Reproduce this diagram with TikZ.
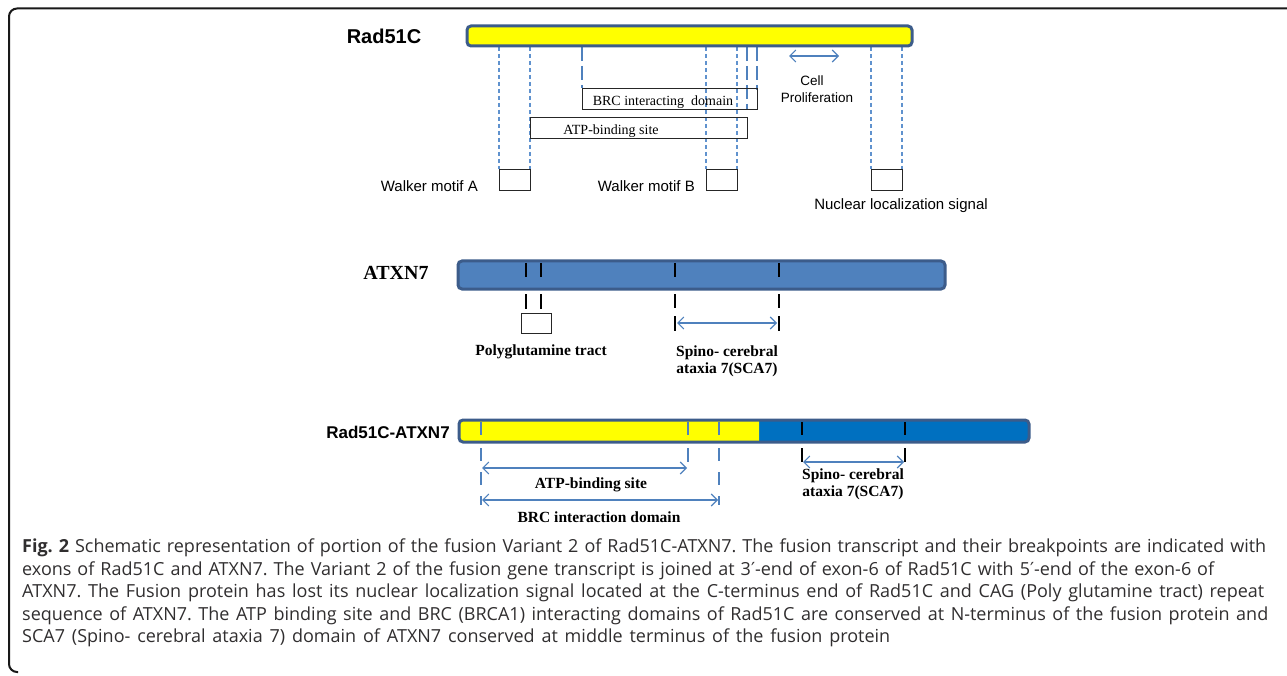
\documentclass[tikz,border=0pt]{standalone}
\usepackage{fontspec}
\setmainfont{Liberation Serif}
\setsansfont{Liberation Sans}
\newfontfamily\capfont{Open Sans}
\newfontfamily\primefont{DejaVu Sans}
\usetikzlibrary{arrows.meta}
\frenchspacing

\definecolor{radyellow}{RGB}{255,255,0}
\definecolor{baredge}{RGB}{60,92,138}
\definecolor{atxblue}{RGB}{79,129,189}
\definecolor{fusblue}{RGB}{0,112,192}
\definecolor{dashblue}{RGB}{79,129,189}
\definecolor{lightline}{RGB}{96,146,206}
\definecolor{captext}{RGB}{48,46,47}
\newcommand{\pr}{{\primefont ′}}

\tikzset{
  protbar/.style={draw=baredge, line width=3pt, rounded corners=4pt},
  tdash/.style={draw=lightline, line width=1.1pt, dash pattern=on 4pt off 3pt},
  kdash/.style={draw=dashblue, line width=2.7pt, dash pattern=on 14pt off 5pt},
  fdash/.style={draw=dashblue, line width=2.7pt, dash pattern=on 13pt off 11pt},
  tick/.style={line width=2.8pt},
  motifbox/.style={draw=black!85, line width=0.8pt},
  domainbox/.style={draw=black!85, line width=0.8pt},
  rangearrow/.style={draw=dashblue, line width=1.1pt,
    {Straight Barb[length=6pt,width=12pt]}-{Straight Barb[length=6pt,width=12pt]}},
  genelab/.style={font=\sffamily\bfseries\fontsize{20}{24}\selectfont},
  fuslab/.style={font=\sffamily\bfseries\fontsize{17}{20}\selectfont},
  serlab/.style={font=\bfseries\fontsize{20}{24}\selectfont},
  motiflab/.style={font=\sffamily\fontsize{15}{18}\selectfont, inner sep=0pt},
  smallsf/.style={font=\sffamily\fontsize{13.5}{16}\selectfont, inner sep=0pt},
  boxtext/.style={font=\fontsize{14}{16}\selectfont, inner sep=0pt, anchor=base},
  domlab/.style={font=\bfseries\fontsize{15.5}{18}\selectfont, inner sep=0pt, align=center},
  captionline/.style={font=\capfont\fontsize{18}{22}\selectfont, text=captext, inner sep=0pt, anchor=base west}
}

\begin{document}
\begin{tikzpicture}[x=1pt,y=-1pt]
\useasboundingbox (0,0) rectangle (1287,676);

% frame of the figure panel
\draw[black!90, line width=2pt, rounded corners=8pt] (1295,8.5) -- (9,8.5) -- (9,672) -- (18,672);

% ---------------- Rad51C ----------------
\node[genelab] (lrad) at (384,36) {Rad51C};

% guide lines down to the motifs
\foreach \x in {499,530,706,737,871,902}
  \draw[tdash] (\x,47) -- (\x,169);
\draw[kdash] (582,47) -- (582,88);
\draw[kdash] (747,47) -- (747,109);
\draw[kdash] (757,47) -- (757,90);

\draw[protbar, fill=radyellow] (467,26) rectangle (912,46);

% motif boxes
\coordinate (wa1) at (499,169); \coordinate (wa2) at (530,190);
\coordinate (wb1) at (706,169); \coordinate (wb2) at (737,190);
\coordinate (nl1) at (871,169); \coordinate (nl2) at (902,190);
\draw[motifbox] (wa1) rectangle (wa2);
\draw[motifbox] (wb1) rectangle (wb2);
\draw[motifbox] (nl1) rectangle (nl2);

% domain boxes
\coordinate (brc1) at (582,88); \coordinate (brc2) at (757,109);
\coordinate (atp1) at (530,117); \coordinate (atp2) at (747,138);
\draw[domainbox] (brc1) rectangle (brc2);
\draw[domainbox] (atp1) rectangle (atp2);
\node[boxtext] (tbrc) at (663,106) {BRC interacting\ \ domain};
\node[boxtext] (tatp) at (611,135) {ATP-binding site};

% cell proliferation region
\coordinate (cp1) at (789,56); \coordinate (cp2) at (839,56);
\draw[rangearrow] (cp1) -- (cp2);
\node[smallsf] (lcell) at (812,81) {Cell};
\node[smallsf] (lprol) at (817,98) {Proliferation};

\node[motiflab, anchor=east] (lwa) at (478,186) {Walker motif A};
\node[motiflab, anchor=east] (lwb) at (695,186) {Walker motif B};
\node[motiflab] (lnls) at (901,206) {Nuclear localization signal};

% ---------------- ATXN7 ----------------
\node[serlab] (latx) at (396,273) {ATXN7};

\draw[protbar, fill=atxblue, draw=baredge] (458,261) rectangle (945,289);
\foreach \x in {526,541,675,779}
  \draw[tick] (\x,263) -- (\x,277);
\foreach \x in {526,541}
  \draw[tick] (\x,294) -- (\x,309);
\foreach \x in {675,779}
  {\draw[tick] (\x,294) -- (\x,308);
   \draw[tick] (\x,316) -- (\x,331);}

\coordinate (pq1) at (521,313); \coordinate (pq2) at (551,333);
\draw[motifbox] (pq1) rectangle (pq2);
\node[domlab] (lpq) at (541,352) {Polyglutamine tract};

\coordinate (sa1) at (677,323); \coordinate (sa2) at (777,323);
\draw[rangearrow] (sa1) -- (sa2);
\node[domlab] (lsca) at (727,361) {Spino- cerebral\\[-1pt]ataxia 7(SCA7)};

% ---------------- Rad51C-ATXN7 fusion ----------------
\node[fuslab] (lfus) at (388,432) {Rad51C-ATXN7};

\fill[fusblue, rounded corners=4pt] (459,420) rectangle (1029,442);
\fill[radyellow] (759,442) [rounded corners=4pt] -- (459,442) -- (459,420) [sharp corners] -- (759,420) -- cycle;
\draw[protbar] (459,420) rectangle (1029,442);

\foreach \x in {481,688,719}
  \draw[tick, dashblue] (\x,422) -- (\x,435);
\foreach \x in {802,905}
  \draw[tick, black] (\x,422) -- (\x,435);

\draw[fdash] (481,448) -- (481,505);
\draw[tick, dashblue] (688,448) -- (688,462);
\draw[fdash] (719,448) -- (719,505);
\draw[tick, black] (802,448) -- (802,462);
\draw[tick, black] (905,448) -- (905,462);

\coordinate (fa1) at (482,468); \coordinate (fa2) at (687,468);
\coordinate (fb1) at (482,500); \coordinate (fb2) at (718,500);
\coordinate (fs1) at (803,462); \coordinate (fs2) at (904,462);
\draw[rangearrow] (fa1) -- (fa2);
\draw[rangearrow] (fb1) -- (fb2);
\draw[rangearrow] (fs1) -- (fs2);

\node[domlab] (lfatp) at (591,485) {ATP-binding site};
\node[domlab] (lfbrc) at (599,517) {BRC interaction domain};
\node[domlab] (lfsca) at (853,484) {Spino- cerebral\\[-1pt]ataxia 7(SCA7)};

% ---------------- caption ----------------
\node[captionline] (c1) at (22,552) {\makebox[1244pt][s]{\textbf{Fig. 2} Schematic representation of portion of the fusion Variant 2 of Rad51C-ATXN7. The fusion transcript and their breakpoints are indicated with}};
\node[captionline] (c2) at (22,575) {\makebox[1192pt][s]{exons of Rad51C and ATXN7. The Variant 2 of the fusion gene transcript is joined at 3\pr-end of exon-6 of Rad51C with 5\pr-end of the exon-6 of}};
\node[captionline] (c3) at (22,597) {\makebox[1242pt][s]{ATXN7. The Fusion protein has lost its nuclear localization signal located at the C-terminus end of Rad51C and CAG (Poly glutamine tract) repeat}};
\node[captionline] (c4) at (22,620) {\makebox[1246pt][s]{sequence of ATXN7. The ATP binding site and BRC (BRCA1) interacting domains of Rad51C are conserved at N-terminus of the fusion protein and}};
\node[captionline] (c5) at (22,642) {\makebox[868pt][s]{SCA7 (Spino- cerebral ataxia 7) domain of ATXN7 conserved at middle terminus of the fusion protein}};
\end{tikzpicture}
\end{document}
